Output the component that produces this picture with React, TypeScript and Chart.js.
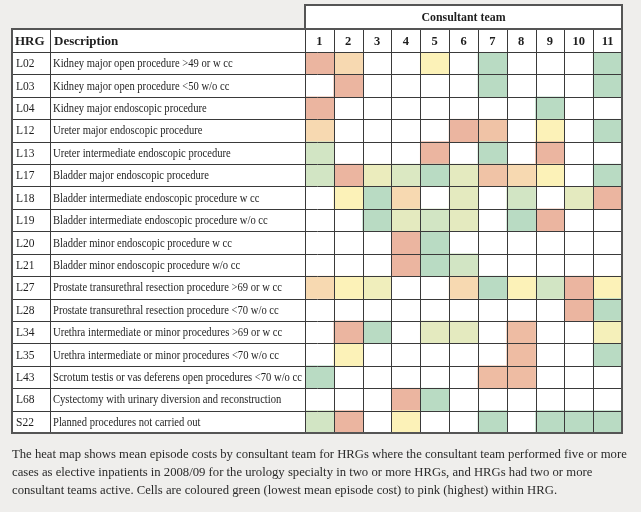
import React, { useEffect, useRef } from "react";
import Chart from "chart.js/auto";

const hrgCodes = ["L02","L03","L04","L12","L13","L17","L18","L19","L20","L21","L27","L28","L34","L35","L43","L68","S22"];
const descriptions = [
  "Kidney major open procedure >49 or w cc",
  "Kidney major open procedure <50 w/o cc",
  "Kidney major endoscopic procedure",
  "Ureter major endoscopic procedure",
  "Ureter intermediate endoscopic procedure",
  "Bladder major endoscopic procedure",
  "Bladder intermediate endoscopic procedure w cc",
  "Bladder intermediate endoscopic procedure w/o cc",
  "Bladder minor endoscopic procedure w cc",
  "Bladder minor endoscopic procedure w/o cc",
  "Prostate transurethral resection procedure >69 or w cc",
  "Prostate transurethral resection procedure <70 w/o cc",
  "Urethra intermediate or minor procedures >69 or w cc",
  "Urethra intermediate or minor procedures <70 w/o cc",
  "Scrotum testis or vas deferens open procedures <70 w/o cc",
  "Cystectomy with urinary diversion and reconstruction",
  "Planned procedures not carried out",
];
const teams = ["1","2","3","4","5","6","7","8","9","10","11"];

// Relative cost level within HRG: 1 = lowest (green) ... 7 = highest (pink); null = no data
const L02 = [7, 5, null, null, 4, null, 1, null, null, null, 1];
const L03 = [null, 7, null, null, null, null, 1, null, null, null, 1];
const L04 = [7, null, null, null, null, null, null, null, 1, null, null];
const L12 = [5, null, null, null, null, 7, 6, null, 4, null, 1];
const L13 = [2, null, null, null, 7, null, 1, null, 7, null, null];
const L17 = [2, 7, 3.3, 2.5, 1, 3, 6, 5, 4, null, 1];
const L18 = [null, 4, 1, 5, null, 3, null, 2, null, 3, 7];
const L19 = [null, null, 1, 3, 2, 3, null, 1, 7, null, null];
const L20 = [null, null, null, 7, 1, null, null, null, null, null, null];
const L21 = [null, null, null, 7, 1, 2, null, null, null, null, null];
const L27 = [5, 4, 3.5, null, null, 5, 1, 4, 2, 7, 4];
const L28 = [null, null, null, null, null, null, null, null, null, 7, 1];
const L34 = [null, 7, 1, null, 3, 3, null, 6.5, null, null, 3.7];
const L35 = [null, 4, null, null, null, null, null, 6.5, null, null, 1];
const L43 = [1, null, null, null, null, null, 6.5, 6.5, null, null, null];
const L68 = [null, null, null, 7, 1, null, null, null, null, null, null];
const S22 = [2, 7, null, 4, null, null, 1, null, 1, 1, 1];

const rows = [L02, L03, L04, L12, L13, L17, L18, L19, L20, L21, L27, L28, L34, L35, L43, L68, S22];

const captionLines = [
  "The heat map shows mean episode costs by consultant team for HRGs where the consultant team performed five or more",
  "cases as elective inpatients in 2008/09 for the urology specialty in two or more HRGs, and HRGs had two or more",
  "consultant teams active. Cells are coloured green (lowest mean episode cost) to pink (highest) within HRG.",
];

const palette: [number, number, number][] = [
  [185, 219, 195],
  [210, 229, 196],
  [228, 234, 191],
  [252, 242, 184],
  [247, 217, 177],
  [240, 195, 166],
  [235, 181, 160],
];

function levelColor(v: number | null): string {
  if (v == null) return "rgba(0,0,0,0)";
  const t = Math.max(1, Math.min(7, v)) - 1;
  const i = Math.min(5, Math.floor(t));
  const f = t - i;
  const a = palette[i], b = palette[i + 1];
  const c = a.map((x, k) => Math.round(x + (b[k] - x) * f));
  return `rgb(${c[0]},${c[1]},${c[2]})`;
}

const SERIF = "'Liberation Serif', 'DejaVu Serif', serif";

const tablePlugin = {
  id: "tablePlugin",
  beforeDatasetsDraw(chart: any) {
    const { ctx, chartArea } = chart;
    ctx.save();
    ctx.fillStyle = "#efeeec";
    ctx.fillRect(0, 0, chart.width, chart.height);
    ctx.fillStyle = "#ffffff";
    ctx.fillRect(12, 29, chartArea.right - 12, chartArea.bottom - 29);
    ctx.fillRect(chartArea.left, 5, chartArea.right - chartArea.left, 24);
    ctx.restore();
  },
  afterDatasetsDraw(chart: any) {
    const { ctx, chartArea, scales } = chart;
    const x = scales.x, y = scales.y;
    const left = 12, hrgRight = 50;
    const L = chartArea.left, R = chartArea.right, T = chartArea.top, B = chartArea.bottom;
    const rowH = (B - T) / hrgCodes.length;
    const headTop = 29, consTop = 5;
    ctx.save();
    ctx.strokeStyle = "#3a3a3a";
    ctx.lineWidth = 1;
    const line = (x1: number, y1: number, x2: number, y2: number) => {
      ctx.beginPath();
      ctx.moveTo(Math.round(x1) + 0.5, Math.round(y1) + 0.5);
      ctx.lineTo(Math.round(x2) + 0.5, Math.round(y2) + 0.5);
      ctx.stroke();
    };
    for (let i = 0; i <= hrgCodes.length; i++) {
      const yy = i === hrgCodes.length ? B : y.getPixelForValue(i) - rowH / 2;
      line(left, yy, R, yy);
    }
    line(left, headTop, R, headTop);
    line(L, consTop, R, consTop);
    for (let j = 0; j <= teams.length; j++) {
      const xx = x.getPixelForValue(j);
      const top = j === 0 || j === teams.length ? consTop : headTop;
      line(xx, top, xx, B);
    }
    line(left, headTop, left, B);
    line(hrgRight, headTop, hrgRight, B);
    ctx.strokeStyle = "#555555";
    ctx.lineWidth = 2;
    ctx.strokeRect(left, headTop, R - left, B - headTop);
    ctx.strokeRect(L, consTop, R - L, headTop - consTop);

    const txt = (s: string, px: number, py: number, squeeze: number) => {
      const w = ctx.measureText(s).width;
      ctx.fillText(s, px, py, w * squeeze);
    };

    ctx.fillStyle = "#1e1e1e";
    ctx.textBaseline = "middle";
    ctx.font = `bold 12.5px ${SERIF}`;
    ctx.textAlign = "center";
    txt("Consultant team", (L + R) / 2, (consTop + headTop) / 2 + 1, 0.95);
    teams.forEach((t, j) => {
      ctx.fillText(t, x.getPixelForValue(j + 0.5), (headTop + T) / 2 + 1);
    });
    ctx.textAlign = "left";
    ctx.font = `bold 13px ${SERIF}`;
    ctx.fillText("HRG", left + 3, (headTop + T) / 2 + 1);
    ctx.fillText("Description", hrgRight + 4, (headTop + T) / 2 + 1);
    ctx.font = `11.5px ${SERIF}`;
    hrgCodes.forEach((code, i) => {
      const yy = y.getPixelForValue(i) + 1;
      txt(code, left + 4, yy, 1);
      txt(descriptions[i], hrgRight + 3, yy, 0.92);
    });
    ctx.restore();
  },
};

export default function App() {
  const ref = useRef<HTMLCanvasElement | null>(null);
  useEffect(() => {
    if (!ref.current) return;
    const datasets = teams.map((t, j) => ({
      label: `Team ${t}`,
      data: rows.map((r) => (r[j] == null ? null : [j, j + 1])),
      backgroundColor: rows.map((r) => levelColor(r[j])),
      borderWidth: 0,
      grouped: false,
      barPercentage: 1,
      categoryPercentage: 1,
    }));
    const chart = new Chart(ref.current, {
      type: "bar",
      data: { labels: hrgCodes, datasets: datasets as any },
      options: {
        indexAxis: "y",
        responsive: false,
        animation: false,
        devicePixelRatio: 1,
        layout: { padding: { left: 305, top: 52, right: 19, bottom: 79 } },
        scales: {
          x: { type: "linear", min: 0, max: teams.length, display: false },
          y: { type: "category", display: false, offset: true },
        },
        plugins: { legend: { display: false }, tooltip: { enabled: false }, title: { display: false } },
      },
      plugins: [tablePlugin],
    });
    return () => chart.destroy();
  }, []);
  return (
    <div style={{ position: "fixed", left: 0, top: 0, width: 641, height: 512, background: "#efeeec" }}>
      <canvas ref={ref} width={641} height={512} style={{ position: "absolute", left: 0, top: 0 }} />
      <div
        style={{
          position: "absolute",
          left: 12,
          top: 445,
          width: 625,
          fontFamily: SERIF,
          fontSize: 12.7,
          lineHeight: "18px",
          color: "#2a2a2a",
          whiteSpace: "nowrap",
        }}
      >
        {captionLines.map((l, i) => (
          <div key={i}>{l}</div>
        ))}
      </div>
    </div>
  );
}
